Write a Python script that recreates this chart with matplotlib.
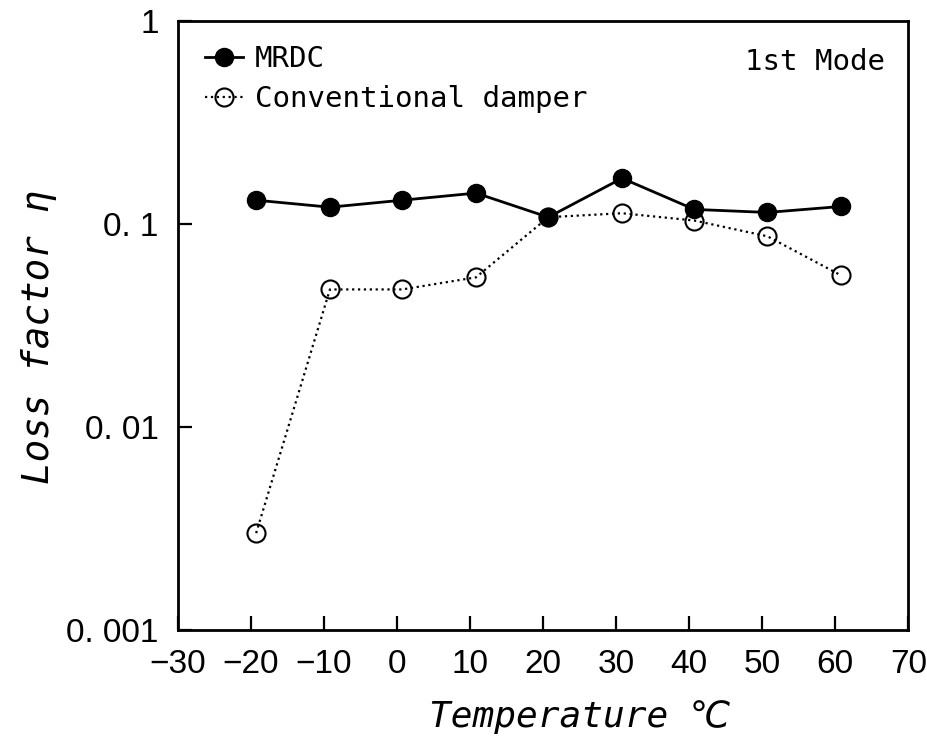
import numpy as np
import matplotlib.pyplot as plt
from matplotlib.ticker import FixedLocator, NullLocator

# data
temp_mrdc = [-19.3, -9.2, 0.7, 10.8, 20.7, 30.8, 40.7, 50.7, 60.8]
eta_mrdc = [0.131, 0.121, 0.131, 0.142, 0.108, 0.168, 0.118, 0.114, 0.122]

temp_conv = [-19.3, -9.2, 0.7, 10.8, 20.7, 30.8, 40.7, 50.7, 60.8]
eta_conv = [0.0030, 0.0476, 0.0476, 0.0546, 0.108, 0.113, 0.104, 0.087, 0.0558]

x_ticks = [-30, -20, -10, 0, 10, 20, 30, 40, 50, 60, 70]
y_ticks = [0.001, 0.01, 0.1, 1]
y_tick_labels = ["0. 001", "0. 01", "0. 1", "1"]

mono = ["DejaVu Sans Mono", "DejaVu Sans"]

fig = plt.figure(figsize=(9.28, 7.45), dpi=100)
ax = fig.add_axes([0.1918, 0.1544, 0.787, 0.8174])

ax.plot(temp_mrdc, eta_mrdc, "-o", color="black", lw=2,
        markersize=13, label="MRDC")
ax.plot(temp_conv, eta_conv, ":o", color="black", lw=1.6,
        markersize=13, markerfacecolor="none", markeredgewidth=1.5,
        label="Conventional damper")

ax.set_yscale("log")
ax.set_xlim(-30, 70)
ax.set_ylim(0.001, 1)

ax.xaxis.set_major_locator(FixedLocator(x_ticks))
ax.set_xticklabels([str(t).replace("-", "\u2212") for t in x_ticks])
ax.yaxis.set_major_locator(FixedLocator(y_ticks))
ax.yaxis.set_minor_locator(NullLocator())
ax.set_yticklabels(y_tick_labels)

for lab in ax.get_xticklabels() + ax.get_yticklabels():
    lab.set_fontfamily("Liberation Sans")
    lab.set_fontsize(24)

ax.tick_params(axis="both", direction="in", length=10, width=1.6)
ax.tick_params(axis="x", pad=14)
ax.tick_params(axis="y", pad=14)

for sp in ax.spines.values():
    sp.set_linewidth(2)

ax.set_xlabel("Temperature \u2103", fontsize=26, style="italic", family=mono)
ax.set_ylabel("Loss factor \u03b7", fontsize=27, style="italic", family=mono)
ax.xaxis.set_label_coords(0.55, -0.115)
ax.yaxis.set_label_coords(-0.165, 0.481)

leg = ax.legend(loc="upper left", frameon=False, handlelength=1.3,
                handletextpad=0.4, borderaxespad=0, labelspacing=0.42,
                bbox_to_anchor=(0.021, 0.98),
                prop={"family": "DejaVu Sans Mono", "size": 21})

ax.text(0.968, 0.933, "1st Mode", transform=ax.transAxes, ha="right",
        va="center", fontsize=21, family=mono)

fig.savefig("out.png", dpi=100)
